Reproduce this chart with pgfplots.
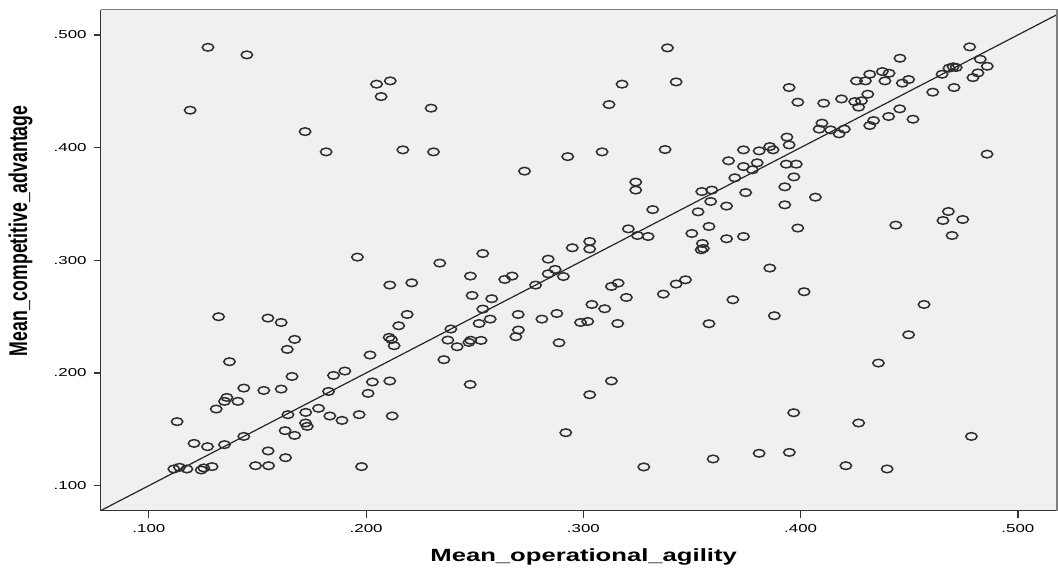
\documentclass[border=0pt]{standalone}
\usepackage{fontspec}
\setmainfont{Liberation Sans}
\usepackage{graphicx}
\usepackage{pgfplots}
\pgfplotsset{compat=1.18}
\definecolor{plotbg}{HTML}{F0F0F0}
\definecolor{ringcol}{HTML}{2E2E2E}
\newcommand{\tl}[1]{\fontsize{5.75}{6}\selectfont\scalebox{1.47}[1]{#1}}
\newcommand{\al}[1]{\fontsize{8.85}{10}\selectfont\bfseries\scalebox{1.45}[1]{#1}}
\newcommand{\alv}[1]{\fontsize{8.85}{10}\selectfont\bfseries\scalebox{1}[1.45]{#1}}

\pgfplotstableread{
x y
0.1272 0.4890
0.1451 0.4823
0.1190 0.4332
0.1719 0.4142
0.1816 0.3962
0.2048 0.4563
0.2111 0.4592
0.2069 0.4453
0.2299 0.4350
0.2169 0.3980
0.2310 0.3962
0.2729 0.3791
0.1960 0.3028
0.2339 0.2975
0.2537 0.3060
0.2838 0.3010
0.3387 0.4885
0.3178 0.4563
0.3427 0.4583
0.3118 0.4382
0.3947 0.4533
0.3987 0.4403
0.2928 0.3920
0.3086 0.3962
0.3376 0.3983
0.3737 0.3980
0.3809 0.3971
0.3858 0.4009
0.3873 0.3980
0.3937 0.4093
0.3947 0.4024
0.3668 0.3883
0.3737 0.3832
0.3800 0.3865
0.3778 0.3803
0.3934 0.3853
0.3980 0.3853
0.3969 0.3740
0.3697 0.3732
0.3927 0.3652
0.3241 0.3694
0.3241 0.3623
0.3545 0.3610
0.3591 0.3623
0.3747 0.3601
0.3586 0.3522
0.3659 0.3481
0.3528 0.3430
0.3319 0.3450
0.3927 0.3492
0.4068 0.3560
0.3987 0.3286
0.3207 0.3279
0.3249 0.3220
0.3298 0.3211
0.3578 0.3300
0.3499 0.3238
0.3659 0.3191
0.3737 0.3211
0.3548 0.3149
0.3542 0.3093
0.3552 0.3105
0.2949 0.3111
0.3029 0.3167
0.3029 0.3100
0.4778 0.4894
0.4457 0.4793
0.4827 0.4784
0.4859 0.4722
0.4683 0.4705
0.4702 0.4717
0.4716 0.4711
0.4651 0.4651
0.4816 0.4663
0.4793 0.4621
0.4706 0.4533
0.4608 0.4492
0.4257 0.4592
0.4298 0.4592
0.4318 0.4651
0.4376 0.4675
0.4407 0.4660
0.4388 0.4592
0.4468 0.4572
0.4497 0.4604
0.4309 0.4474
0.4188 0.4432
0.4249 0.4408
0.4280 0.4415
0.4267 0.4359
0.4106 0.4394
0.4456 0.4344
0.4405 0.4276
0.4517 0.4252
0.4336 0.4240
0.4318 0.4196
0.4098 0.4217
0.4085 0.4164
0.4138 0.4157
0.4177 0.4122
0.4201 0.4164
0.4858 0.3942
0.4680 0.3433
0.4655 0.3353
0.4746 0.3362
0.4697 0.3220
0.4438 0.3312
0.1321 0.2499
0.1548 0.2487
0.1609 0.2448
0.1671 0.2298
0.1637 0.2209
0.1371 0.2100
0.1659 0.1969
0.1850 0.1978
0.1827 0.1836
0.1437 0.1866
0.1529 0.1845
0.1609 0.1857
0.1359 0.1783
0.1348 0.1748
0.1410 0.1748
0.1310 0.1680
0.1130 0.1568
0.1640 0.1630
0.1722 0.1650
0.1781 0.1686
0.1833 0.1618
0.1721 0.1556
0.1729 0.1526
0.1627 0.1488
0.1671 0.1446
0.1437 0.1437
0.1208 0.1375
0.1270 0.1346
0.1348 0.1364
0.1549 0.1308
0.1629 0.1248
0.1491 0.1177
0.1551 0.1177
0.1115 0.1148
0.1141 0.1163
0.1175 0.1148
0.1241 0.1139
0.1253 0.1157
0.1291 0.1169
0.2109 0.2780
0.2210 0.2800
0.2480 0.2860
0.2638 0.2830
0.2672 0.2860
0.2870 0.2919
0.2838 0.2880
0.2908 0.2856
0.2780 0.2780
0.2488 0.2688
0.2578 0.2659
0.2537 0.2567
0.2189 0.2519
0.2700 0.2519
0.2809 0.2478
0.2878 0.2528
0.2520 0.2439
0.2571 0.2478
0.2150 0.2419
0.2390 0.2390
0.2701 0.2381
0.2689 0.2322
0.2376 0.2292
0.2419 0.2233
0.2473 0.2271
0.2481 0.2290
0.2529 0.2289
0.2888 0.2268
0.2106 0.2316
0.2117 0.2296
0.2129 0.2242
0.2358 0.2118
0.2018 0.2159
0.1902 0.2017
0.2029 0.1920
0.2109 0.1929
0.2009 0.1819
0.2479 0.1898
0.1889 0.1579
0.1968 0.1630
0.2120 0.1618
0.1979 0.1169
0.2919 0.1470
0.3129 0.2768
0.3160 0.2798
0.3198 0.2670
0.3039 0.2608
0.3098 0.2570
0.2987 0.2448
0.3020 0.2457
0.3158 0.2439
0.3368 0.2700
0.3427 0.2789
0.3470 0.2827
0.3578 0.2437
0.3688 0.2650
0.3858 0.2931
0.3879 0.2508
0.4016 0.2721
0.3129 0.1929
0.3029 0.1807
0.3278 0.1166
0.3597 0.1237
0.3809 0.1287
0.3948 0.1295
0.3968 0.1647
0.4568 0.2608
0.4497 0.2339
0.4358 0.2088
0.4267 0.1556
0.4786 0.1437
0.4208 0.1177
0.4398 0.1148
}\agility

\begin{document}
\begin{tikzpicture}
\begin{axis}[
  scale only axis,
  width=478.5pt, height=250.65pt,
  xmin=0.0778, xmax=0.518,
  ymin=0.0778, ymax=0.5224,
  axis background/.style={fill=plotbg},
  axis lines*=left,
  axis line style={draw=black!80, line width=0.75pt, -},
  tick align=outside,
  major tick length=3.5pt,
  tick style={draw=black!80, line width=0.6pt},
  xtick={0.1,0.2,0.3,0.4,0.5},
  ytick={0.1,0.2,0.3,0.4,0.5},
  xticklabels={\tl{.100},\tl{.200},\tl{.300},\tl{.400},\tl{.500}},
  yticklabels={\tl{.100},\tl{.200},\tl{.300},\tl{.400},\tl{.500}},
  xlabel={\al{Mean\_operational\_agility}},
  ylabel={\alv{Mean\_competitive\_advantage}},
  xlabel style={at={(axis description cs:0.505,-0.1011)}, anchor=base},
  ylabel style={at={(axis description cs:-0.0838,0.5585)}, anchor=center},
  clip=true,
]
\addplot[draw=black!85, line width=0.6pt, no marks]
  coordinates {(0.0778,0.0778) (0.5224,0.5224)};
\addplot[only marks, mark=o, mark size=1.9pt,
  mark options={xscale=1.5, draw=ringcol, line width=0.75pt}]
  table[x=x, y=y] {\agility};
\coordinate (bl) at (rel axis cs:0,0);
\coordinate (tr) at (rel axis cs:1,1);
\end{axis}
\draw[black!50, line width=0.75pt] (bl |- tr) -- (tr) -- (tr |- bl);
\path (bl) ++(-50.35pt,-28pt) coordinate (c1);
\path (tr) ++(0.5pt,4.85pt) coordinate (c2);
\path (c1) rectangle (c2);
\end{tikzpicture}
\end{document}
